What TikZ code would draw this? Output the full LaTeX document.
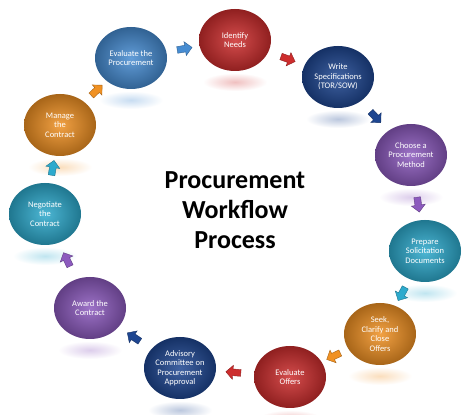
\documentclass[tikz,border=0pt]{standalone}
\usepackage{fontspec}
\setmainfont{Carlito}
\usetikzlibrary{shapes.geometric, shapes.arrows}

\definecolor{stepred}{RGB}{205,45,45}
\definecolor{stepnavy}{RGB}{30,70,145}
\definecolor{steppurple}{RGB}{140,90,190}
\definecolor{stepcyan}{RGB}{45,170,205}
\definecolor{steporange}{RGB}{240,145,35}
\definecolor{stepblue}{RGB}{70,140,210}

\tikzset{
    stage/.style={ellipse, minimum width=72pt, minimum height=62pt, inner sep=0pt,
        align=center, text=white, font=\fontsize{8.5}{9.5}\selectfont,
        inner color=#1!85!white, outer color=#1!70!black},
    flowarrow/.style={single arrow, minimum height=15pt, minimum width=14pt,
        single arrow head extend=3.5pt, inner sep=3pt, sloped, allow upside down,
        fill=#1, draw=#1!70!black},
}

\begin{document}
\begin{tikzpicture}[x=1pt, y=1pt]
        \useasboundingbox (0,0) rectangle (474,415);
        \fill[white] (0,0) rectangle (474,415);
        \foreach \name/\px/\py/\col/\txt in {
            idneeds/235/40/stepred/{Identify\\Needs},
            writespec/338/77/stepnavy/{Write\\Specifications\\(TOR/SOW)},
            choose/411/155/steppurple/{Choose a\\Procurement\\Method},
            prepare/425/251/stepcyan/{Prepare\\Solicitation\\Documents},
            seek/380/334/steporange/{Seek,\\Clarify and\\Close\\Offers},
            evaloffers/290/377/stepred/{Evaluate\\Offers},
            advisory/180/368/stepnavy/{Advisory\\Committee on\\Procurement\\Approval},
            award/90/308/steppurple/{Award the\\Contract},
            negotiate/45/214/stepcyan/{Negotiate\\the\\Contract},
            manage/60/125/steporange/{Manage\\the\\Contract},
            evalproc/131/58/stepblue/{Evaluate the\\Procurement}} {
            \pgfmathsetmacro{\ypos}{415 - \py}
            \shade[inner color=\col!30, outer color=white]
                (\px,\ypos-42) ellipse (32pt and 9pt);
            \node[stage=\col] (\name) at (\px,\ypos) {\txt};
        }
        \foreach \a/\b/\col in {
            evalproc/idneeds/stepblue, idneeds/writespec/stepred,
            writespec/choose/stepnavy, choose/prepare/steppurple,
            prepare/seek/stepcyan, seek/evaloffers/steporange,
            evaloffers/advisory/stepred, advisory/award/stepnavy,
            award/negotiate/steppurple, negotiate/manage/stepcyan,
            manage/evalproc/steporange} {
            \path (\a) -- (\b) node[midway, flowarrow=\col] {};
        }
        \node[font=\bfseries\fontsize{26}{30}\selectfont, align=center]
            (title) at (235,205) {Procurement\\Workflow\\Process};
    \end{tikzpicture}
\end{document}
